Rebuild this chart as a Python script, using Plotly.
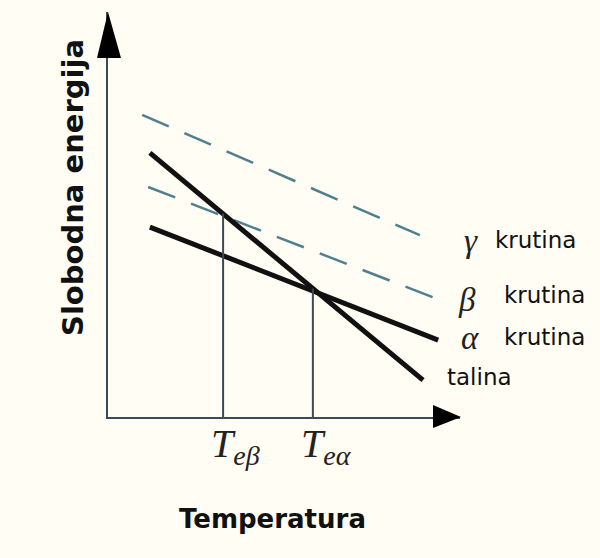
import plotly.graph_objects as go

# free energy lines: start/end points (arbitrary units, temperature on x)
gamma_x = [0.97, 8.86]
gamma_y = [7.46, 4.49]
beta_x = [1.14, 9.43]
beta_y = [5.68, 2.89]
alpha_x = [1.19, 9.38]
alpha_y = [4.69, 1.90]
talina_x = [1.19, 8.95]
talina_y = [6.52, 0.91]

# equilibrium temperatures and the height where the melt line crosses them
te_x = [3.27, 5.82]
te_y = [5.02, 3.17]
te_labels = ["<i>T</i><sub><i>eβ</i></sub>", "<i>T</i><sub><i>eα</i></sub>"]

# phase labels on the right
greek = ["γ", "β", "α"]
phase_word = "krutina"

W, H = 600, 558
L, R, T, B = 108, 460, 12, 417  # plot area in pixels
BG = "#fffdf4"
AXIS = "#3b4b53"
DASH = "#4f8090"


def px(x):
    return (x - L) / (R - L)


def py(y):
    return (B - y) / (B - T)


fig = go.Figure()

for xs, ys in [(gamma_x, gamma_y), (beta_x, beta_y)]:
    fig.add_trace(go.Scatter(x=xs, y=ys, mode="lines",
                             line=dict(color=DASH, width=2.5, dash="29px,17px")))

for xs, ys in [(talina_x, talina_y), (alpha_x, alpha_y)]:
    fig.add_trace(go.Scatter(x=xs, y=ys, mode="lines",
                             line=dict(color="#111111", width=5)))

for tx, ty in zip(te_x, te_y):
    fig.add_trace(go.Scatter(x=[tx, tx], y=[0, ty], mode="lines",
                             line=dict(color=AXIS, width=2)))

fig.update_layout(
    width=W, height=H,
    margin=dict(l=L, r=W - R, t=T, b=H - B),
    paper_bgcolor=BG, plot_bgcolor=BG,
    showlegend=False,
    xaxis=dict(range=[0, 10], showgrid=False, zeroline=False, showticklabels=False,
               ticks="", showline=True, linecolor=AXIS, linewidth=2),
    yaxis=dict(range=[0, 10], showgrid=False, zeroline=False, showticklabels=False,
               ticks="", showline=True, linecolor=AXIS, linewidth=2),
)

# arrow heads on the axes
fig.add_shape(type="path", xref="paper", yref="paper",
              path=f"M {px(97)} {py(58)} L {px(121)} {py(58)} L {px(108)} {py(12)} Z",
              fillcolor="#000000", line=dict(width=0))
fig.add_shape(type="path", xref="paper", yref="paper",
              path=f"M {px(433)} {py(405)} L {px(433)} {py(428)} L {px(461)} {py(417)} Z",
              fillcolor="#000000", line=dict(width=0))

ann = []
# axis titles
ann.append(dict(text="<b>Slobodna energija</b>", x=px(73), y=py(188), xref="paper", yref="paper",
                textangle=-90, showarrow=False, xanchor="center", yanchor="middle",
                font=dict(family="DejaVu Sans", size=29, color="#111111")))
ann.append(dict(text="<b>Temperatura</b>", x=px(272), y=py(519), xref="paper", yref="paper",
                showarrow=False, xanchor="center", yanchor="middle",
                font=dict(family="DejaVu Sans", size=26, color="#111111")))

# equilibrium temperature labels
for tx, lab in zip(te_x, te_labels):
    ann.append(dict(text=lab, x=tx, y=py(446), xref="x", yref="paper", xshift=-14,
                    showarrow=False, xanchor="left", yanchor="middle",
                    font=dict(family="Liberation Serif", size=40, color="#222222")))

# phase labels
greek_pos = [(462, 241), (456, 300), (459, 338)]
word_pos = [(493, 240), (502, 295), (502, 337)]
for g, (gx, gy), (wx, wy) in zip(greek, greek_pos, word_pos):
    ann.append(dict(text=f"<i>{g}</i>", x=px(gx), y=py(gy), xref="paper", yref="paper",
                    showarrow=False, xanchor="left", yanchor="middle",
                    font=dict(family="Liberation Serif", size=33, color="#222222")))
    ann.append(dict(text=phase_word, x=px(wx), y=py(wy), xref="paper", yref="paper",
                    showarrow=False, xanchor="left", yanchor="middle",
                    font=dict(family="DejaVu Sans", size=23, color="#111111")))
ann.append(dict(text="talina", x=px(445), y=py(377), xref="paper", yref="paper",
                showarrow=False, xanchor="left", yanchor="middle",
                font=dict(family="DejaVu Sans", size=23, color="#111111")))

fig.update_layout(annotations=ann)

fig.write_html("out.html", config={"displayModeBar": False},
               post_script="document.body.style.margin='0';")
